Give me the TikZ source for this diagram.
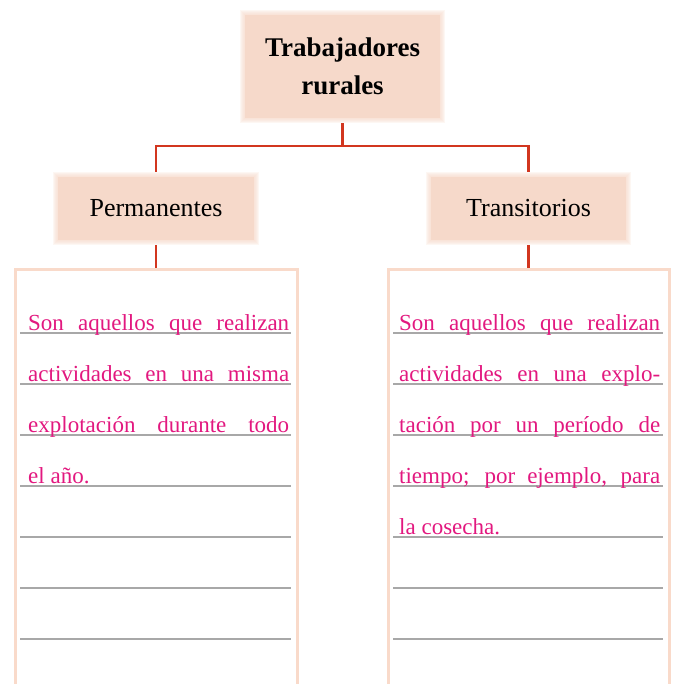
\documentclass[tikz,border=0pt]{standalone}
\usepackage{fontspec}
\setmainfont{Liberation Serif}
\usetikzlibrary{backgrounds}
\definecolor{durazno}{HTML}{F6D9CA}
\definecolor{marcocol}{HTML}{F9DACA}
\definecolor{rojo}{HTML}{D2361F}
\definecolor{rosa}{HTML}{E2187F}
\definecolor{gris}{HTML}{A8A8A8}
\tikzset{
	caja/.style={minimum width=205pt, minimum height=73pt, inner sep=0pt},
	enlace/.style={rojo, line width=2.6pt},
	marco/.style={draw=marcocol, line width=3pt, anchor=north, minimum height=440pt, inner sep=0pt},
	renglon/.style={gris, line width=1.6pt},
	texto/.style={rosa, anchor=base west, inner sep=0pt, font=\fontsize{23}{28}\selectfont}
}
\begin{document}
\begin{tikzpicture}[x=1pt,y=-1pt]
		\useasboundingbox (0,0) rectangle (674,684);
		\clip (0,0) rectangle (674,684);
		
		% cajas de titulo
		\node[caja, minimum height=113pt, align=center, font=\bfseries\fontsize{27}{38}\selectfont] (trab) at (342.5,66.5) {Trabajadores\\rurales};
		\node[caja, font=\fontsize{26}{30}\selectfont] (perm) at (156,208.5) {Permanentes};
		\node[caja, font=\fontsize{26}{30}\selectfont] (trans) at (528.5,208.5) {Transitorios};
		
		% fondo difuminado de las cajas
		\begin{scope}[on background layer]
			\foreach \n in {trab,perm,trans} {
				\fill[durazno] ([shift={(5,5)}]\n.north west) rectangle ([shift={(-5,-5)}]\n.south east);
				\foreach \w in {2,4,6,8,10}
					\draw[durazno, line width=\w pt, opacity=0.22] ([shift={(5,5)}]\n.north west) rectangle ([shift={(-5,-5)}]\n.south east);
			}
		\end{scope}
		
		% marcos abiertos abajo
		\node[marco, minimum width=282pt] (marcoP) at (156,268) {};
		\node[marco, minimum width=281pt] (marcoT) at (528.5,268) {};
		
		% conectores
		\coordinate (rama) at (342.5,146);
		\draw[enlace] (trab) -- (rama);
		\draw[enlace] (perm.north) |- (rama) -| (trans.north);
		\draw[enlace] (perm) -- (marcoP);
		\draw[enlace] (trans) -- (marcoT);
		
		% renglones
		\foreach \y in {333,384,435,486,537,588,639} {
			\draw[renglon] (20,\y) -- (291,\y);
			\draw[renglon] (393,\y) -- (663,\y);
		}
		
		% texto izquierda
		\foreach \t [count=\i] in {Son aquellos que realizan, actividades en una misma, explotación durante todo}
			\node[texto] (izq\i) at (28,{330+51*(\i-1)}) {\makebox[261pt][s]{\t}};
		\node[texto] (izq4) at (28,483) {el año.};
		
		% texto derecha
		\foreach \t [count=\i] in {Son aquellos que realizan, actividades en una explo-, tación por un período de, {tiempo; por ejemplo, para}}
			\node[texto] (der\i) at (399,{330+51*(\i-1)}) {\makebox[261pt][s]{\t}};
		\node[texto] (der5) at (399,534) {la cosecha.};
	\end{tikzpicture}
\end{document}
